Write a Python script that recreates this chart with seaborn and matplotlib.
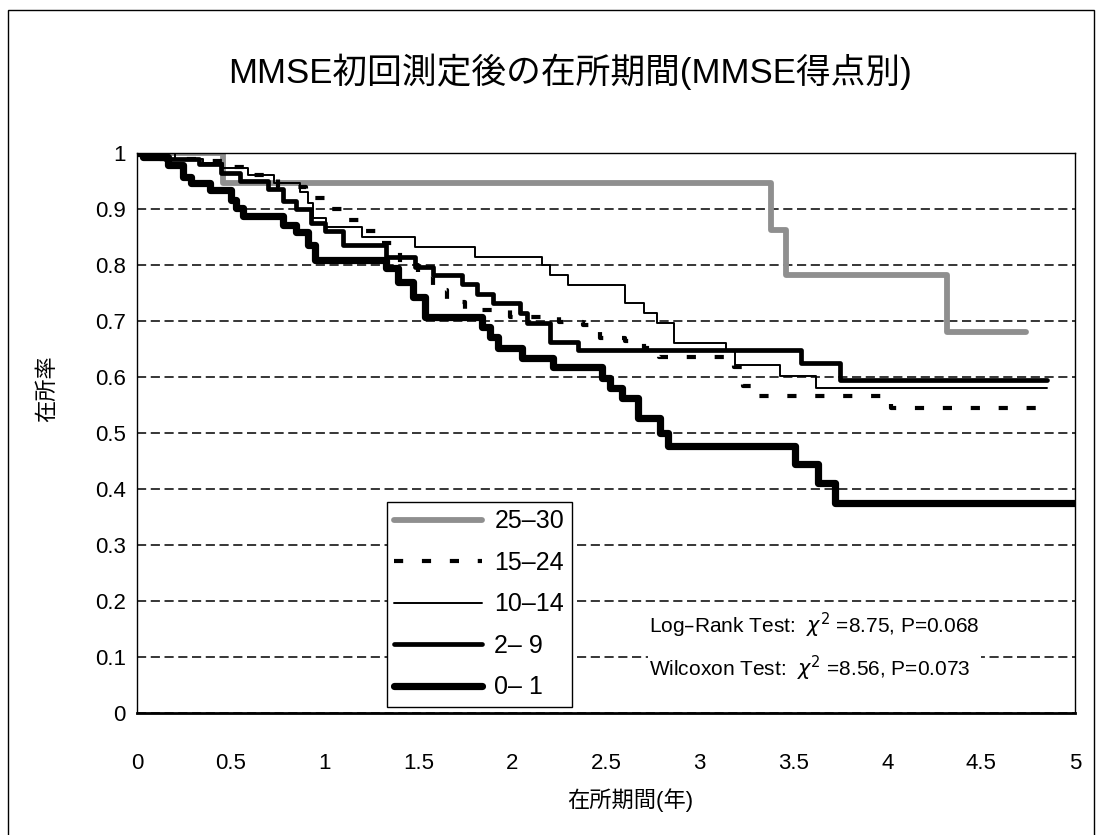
import numpy as np
import pandas as pd
import matplotlib
matplotlib.use('Agg')
import matplotlib.pyplot as plt
import matplotlib.patches as mpatches
import seaborn as sns

sns.set_style('white')
plt.rcParams['font.family'] = ['Liberation Sans', 'Noto Sans CJK JP', 'DejaVu Sans']
plt.rcParams['mathtext.fontset'] = 'dejavusans'
plt.rcParams.update({'text.color': 'black', 'axes.labelcolor': 'black',
                     'xtick.color': 'black', 'ytick.color': 'black'})

# --- data (years, survival) ---
labels = ['25–30', '15–24', '10–14', '2– 9', '0– 1']

t_2530 = [0, 0.46, 3.38, 3.46, 4.32, 4.74]
s_2530 = [1.0, 0.947, 0.862, 0.782, 0.68, 0.68]

t_1524 = [0, 0.12, 0.33, 0.5, 0.6, 0.75, 0.9, 1.0, 1.1, 1.2, 1.3, 1.4, 1.5, 1.58, 1.65,
          1.75, 1.99, 2.25, 2.38, 2.47, 2.60, 2.70, 2.78, 3.18, 3.23, 3.30, 4.02, 4.85]
s_1524 = [1.0, 0.99, 0.985, 0.975, 0.96, 0.94, 0.92, 0.90, 0.88, 0.86, 0.84, 0.80, 0.78, 0.755, 0.734,
          0.72, 0.707, 0.698, 0.693, 0.67, 0.664, 0.652, 0.636, 0.618, 0.584, 0.566, 0.545, 0.545]

t_1014 = [0, 0.2, 0.35, 0.46, 0.59, 0.73, 0.87, 0.91, 0.94, 1.01, 1.20, 1.48, 1.80, 2.16, 2.20,
          2.30, 2.60, 2.70, 2.77, 2.86, 3.14, 3.19, 3.43, 3.62, 4.85]
s_1014 = [1.0, 0.99, 0.982, 0.973, 0.96, 0.946, 0.93, 0.91, 0.884, 0.868, 0.85, 0.832, 0.815, 0.80, 0.782,
          0.764, 0.732, 0.714, 0.697, 0.66, 0.646, 0.621, 0.602, 0.58, 0.58]

t_29 = [0, 0.15, 0.33, 0.45, 0.55, 0.7, 0.78, 0.85, 0.93, 1.0, 1.1, 1.33, 1.48, 1.58, 1.73,
        1.81, 1.90, 2.04, 2.08, 2.20, 2.35, 3.54, 3.75, 4.85]
s_29 = [1.0, 0.99, 0.98, 0.965, 0.95, 0.935, 0.915, 0.90, 0.875, 0.86, 0.836, 0.815, 0.796, 0.782, 0.766,
        0.748, 0.732, 0.714, 0.697, 0.663, 0.648, 0.625, 0.595, 0.595]

t_01 = [0, 0.03, 0.165, 0.245, 0.29, 0.39, 0.50, 0.53, 0.565, 0.78, 0.85, 0.91, 0.95, 1.33, 1.39,
        1.47, 1.535, 1.84, 1.88, 1.925, 2.05, 2.22, 2.48, 2.52, 2.585, 2.67, 2.79, 2.83, 3.51, 3.63,
        3.72, 5.0]
s_01 = [1.0, 0.993, 0.979, 0.957, 0.946, 0.934, 0.916, 0.902, 0.888, 0.871, 0.859, 0.836, 0.809, 0.794, 0.77,
        0.743, 0.707, 0.689, 0.671, 0.652, 0.634, 0.618, 0.598, 0.58, 0.5625, 0.527, 0.50, 0.477, 0.445, 0.41,
        0.375, 0.375]

series = [(t_2530, s_2530), (t_1524, s_1524), (t_1014, s_1014), (t_29, s_29), (t_01, s_01)]
line_kws = [
    dict(color='#8f8f8f', linewidth=4.2),
    dict(color='black', linewidth=3.0, linestyle=(0, (2.2, 4.5))),
    dict(color='black', linewidth=1.4),
    dict(color='black', linewidth=3.4),
    dict(color='black', linewidth=5.2),
]

xticks = [0, 0.5, 1, 1.5, 2, 2.5, 3, 3.5, 4, 4.5, 5]
xticklabels = ['0', '0.5', '1', '1.5', '2', '2.5', '3', '3.5', '4', '4.5', '5']
yticks = [0, 0.1, 0.2, 0.3, 0.4, 0.5, 0.6, 0.7, 0.8, 0.9, 1]
yticklabels = ['0', '0.1', '0.2', '0.3', '0.4', '0.5', '0.6', '0.7', '0.8', '0.9', '1']

fig = plt.figure(figsize=(11.03, 8.35), dpi=100)
ax = fig.add_axes([0.1242, 0.1461, 0.8504, 0.6707])

for lab, (t, s), kw in zip(labels, series, line_kws):
    df = pd.DataFrame({'t': t, 's': s})
    sns.lineplot(data=df, x='t', y='s', ax=ax, drawstyle='steps-post',
                 estimator=None, sort=False, label=lab, **kw)
    if 'linestyle' in kw:
        ax.lines[-1].set_linestyle(kw['linestyle'])

ax.set_xlim(0, 5)
ax.set_ylim(0, 1)
ax.set_xticks(xticks)
ax.set_xticklabels(xticklabels)
ax.set_yticks(yticks)
ax.set_yticklabels(yticklabels)
ax.grid(axis='y', color='black', linewidth=1.1, linestyle=(0, (6, 3)))
ax.grid(axis='x', visible=False)
ax.set_axisbelow(True)
ax.tick_params(axis='x', direction='in', length=8, width=1, labelsize=16, pad=29)
ax.tick_params(axis='y', length=0, labelsize=16, pad=8)
ax.set_xlabel('')
ax.set_ylabel('')
for side in ['left', 'top', 'right']:
    ax.spines[side].set_color('black')
    ax.spines[side].set_linewidth(1.0)
ax.spines['bottom'].set_color('black')
ax.spines['bottom'].set_linewidth(2.0)

leg = ax.legend(loc='upper left', bbox_to_anchor=(0.2665, 0.377), borderaxespad=0,
                fontsize=18, handlelength=3.5, labelspacing=0.7, borderpad=0.3,
                handletextpad=0.5, frameon=True, fancybox=False, framealpha=1)
leg.get_frame().set_edgecolor('black')
leg.get_frame().set_linewidth(1.0)

ax.text(2.73, 0.118, 'Log–Rank Test:  $\\chi^2$ =8.75, P=0.068\nWilcoxon Test:  $\\chi^2$ =8.56, P=0.073',
        fontsize=15, va='center', ha='left', linespacing=1.6,
        bbox=dict(facecolor='white', edgecolor='none', pad=1))

fig.text(0.517, 0.914, 'MMSE初回測定後の在所期間(MMSE得点別)', fontsize=25, ha='center', va='center')
fig.text(0.571, 0.042, '在所期間(年)', fontsize=16, ha='center', va='center')
fig.text(0.0435, 0.535, '在所率', fontsize=16, ha='center', va='center', rotation=90)

fig.patches.append(mpatches.Rectangle((8 / 1103, -0.01), 1086 / 1103, 1.0 - 10 / 835 + 0.01,
                                      transform=fig.transFigure, fill=False,
                                      edgecolor='black', linewidth=1.0))

fig.savefig('out.png', dpi=100)
